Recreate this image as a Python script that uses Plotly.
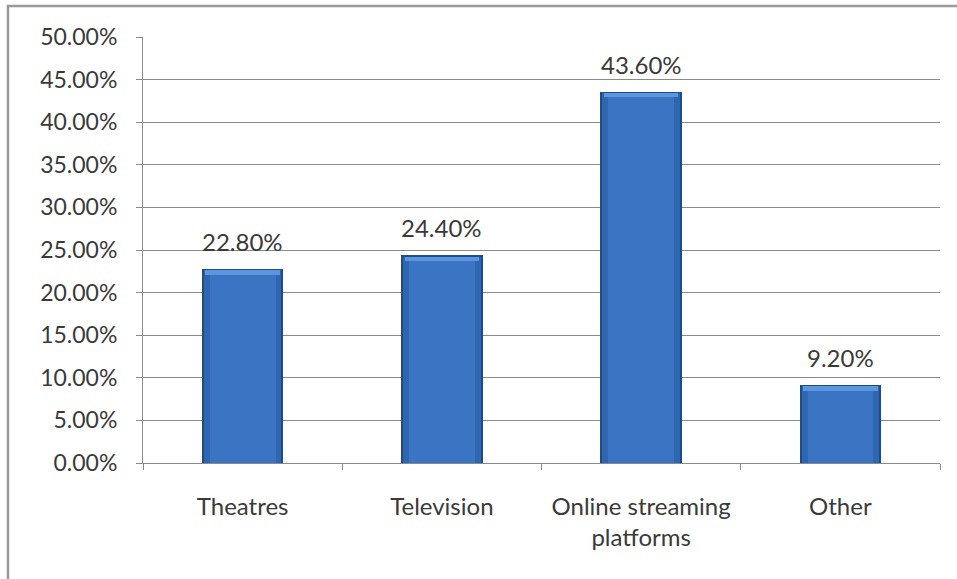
import plotly.graph_objects as go

# Viewing-platform survey shares
categories = ["Theatres", "Television", "Online streaming<br>platforms", "Other"]
shares = [0.228, 0.244, 0.436, 0.092]
share_labels = ["22.80%", "24.40%", "43.60%", "9.20%"]
y_ticks = [0.0, 0.05, 0.10, 0.15, 0.20, 0.25, 0.30, 0.35, 0.40, 0.45, 0.50]

FONT = "Lato"
TEXT = "#3a3a3a"
GRID = "#8a8a8a"

fig = go.Figure()

# Beveled bar look: dark rim, mid-blue body, light cap along the top
fig.add_trace(go.Bar(x=categories, y=shares, width=0.41,
                     marker=dict(color="#1f4c88", line=dict(width=0)),
                     hoverinfo="skip"))
fig.add_trace(go.Bar(x=categories, y=[v - 0.002 for v in shares], width=0.39,
                     marker=dict(color="#2f66b0", line=dict(width=0)),
                     hoverinfo="skip"))
fig.add_trace(go.Bar(x=categories, y=[v - 0.003 for v in shares], width=0.33,
                     marker=dict(color="#3a74c2", line=dict(width=0)),
                     hoverinfo="skip"))
fig.add_trace(go.Bar(x=categories, y=[0.005] * len(shares),
                     base=[v - 0.007 for v in shares], width=0.375,
                     marker=dict(color="#5a97de", line=dict(width=0)),
                     hoverinfo="skip"))

for cat, v, lab in zip(categories, shares, share_labels):
    fig.add_annotation(x=cat, y=v, text=lab, showarrow=False,
                       yanchor="bottom", yshift=11,
                       font=dict(family=FONT, size=24, color=TEXT))

# Chart frame (left and top edges visible)
fig.add_shape(type="rect", xref="paper", yref="paper",
              x0=-0.1694, x1=1.2, y0=-0.4, y1=1.0728,
              line=dict(color="#999999", width=2.5), layer="below")

fig.update_layout(
    width=957, height=579,
    margin=dict(l=143, r=17, t=37, b=116),
    paper_bgcolor="white", plot_bgcolor="white",
    barmode="overlay", bargap=0,
    showlegend=False,
    font=dict(family=FONT, color=TEXT),
)

fig.update_xaxes(
    type="category", tickson="boundaries", ticks="outside", ticklen=6,
    tickcolor=GRID, showline=True, linecolor=GRID, linewidth=1,
    showgrid=False, tickfont=dict(family=FONT, size=24, color=TEXT),
    ticklabelstandoff=22,
)
fig.update_yaxes(
    range=[0, 0.5], tickvals=y_ticks, tickformat=".2%",
    ticks="outside", ticklen=6, tickcolor=GRID,
    showline=True, linecolor=GRID, linewidth=1,
    showgrid=True, gridcolor=GRID, gridwidth=1, zeroline=False,
    tickfont=dict(family=FONT, size=23, color=TEXT),
    ticklabelstandoff=14,
)

fig.write_html("out.html")
